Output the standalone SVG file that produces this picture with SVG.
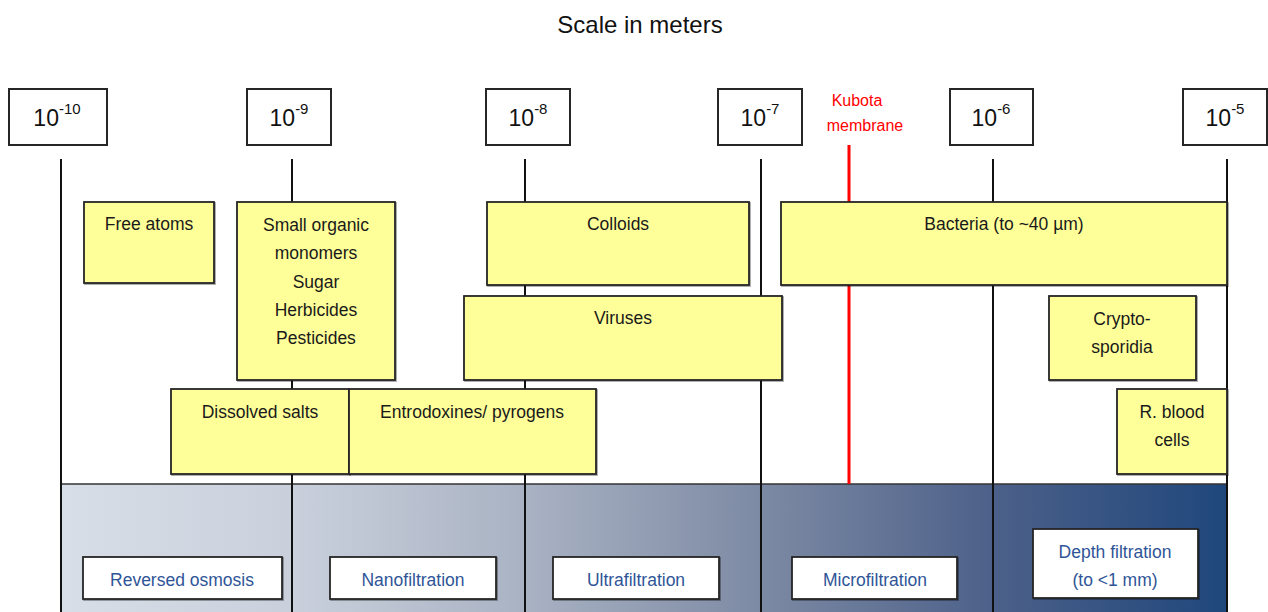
<svg xmlns="http://www.w3.org/2000/svg" width="1268" height="612" viewBox="0 0 1268 612">
<style>
text{font-family:"Liberation Sans",Arial,sans-serif;}
.title{font-size:24px;fill:#111;text-anchor:middle;}
.sbox{fill:#fff;stroke:#262626;stroke-width:2;}
.snum{font-size:23px;fill:#111;text-anchor:middle;}
.sup{font-size:15px;}
.ybox{fill:#ffff99;stroke:#262626;stroke-width:1.8;filter:url(#sh);}
.yt{font-size:17.5px;fill:#1a1a1a;text-anchor:middle;}
.wbox{fill:#fff;stroke:#262626;stroke-width:1.8;filter:url(#sh);}
.bt{font-size:17.5px;fill:#2f5597;text-anchor:middle;}
.vl{stroke:#111;stroke-width:2;}
.red{stroke:#ff0000;stroke-width:3;}
.kt{font-size:16px;fill:#ff0000;text-anchor:middle;}
</style>
<defs>
<linearGradient id="band" x1="61" y1="0" x2="1227" y2="0" gradientUnits="userSpaceOnUse">
<stop offset="0" stop-color="#d8dee7"/>
<stop offset="0.2" stop-color="#c9d0dc"/>
<stop offset="0.4" stop-color="#a9b2c3"/>
<stop offset="0.6" stop-color="#7d8aa4"/>
<stop offset="0.8" stop-color="#4c6089"/>
<stop offset="1" stop-color="#1f477c"/>
</linearGradient>
<filter id="sh" x="-5%" y="-5%" width="110%" height="115%">
<feDropShadow dx="1" dy="1" stdDeviation="0.6" flood-color="#000" flood-opacity="0.35"/>
</filter>
</defs>
<rect width="1268" height="612" fill="#fff"/>
<text class="title" x="640" y="33">Scale in meters</text>

<g id="band-bg">
<rect x="61" y="484" width="1166" height="130" fill="url(#band)"/>
<line x1="61" y1="484" x2="1227" y2="484" stroke="#333" stroke-width="1.5"/>
</g>

<g id="connectors">
<line class="vl" x1="61" y1="159" x2="61" y2="612"/>
<line class="vl" x1="292" y1="159" x2="292" y2="612"/>
<line class="vl" x1="525" y1="159" x2="525" y2="612"/>
<line class="vl" x1="761" y1="159" x2="761" y2="612"/>
<line class="vl" x1="993" y1="159" x2="993" y2="612"/>
<line class="vl" x1="1227" y1="159" x2="1227" y2="612"/>
<line class="red" x1="849" y1="145" x2="849" y2="484"/>
</g>

<g id="scale-1e-10"><rect class="sbox" x="9" y="89" width="98" height="56"/><text class="snum" x="57" y="126">10<tspan class="sup" dy="-12">-10</tspan></text></g>
<g id="scale-1e-9"><rect class="sbox" x="247" y="89" width="84" height="56"/><text class="snum" x="289" y="126">10<tspan class="sup" dy="-12">-9</tspan></text></g>
<g id="scale-1e-8"><rect class="sbox" x="486" y="89" width="84" height="56"/><text class="snum" x="528" y="126">10<tspan class="sup" dy="-12">-8</tspan></text></g>
<g id="scale-1e-7"><rect class="sbox" x="718" y="89" width="84" height="56"/><text class="snum" x="760" y="126">10<tspan class="sup" dy="-12">-7</tspan></text></g>
<g id="scale-1e-6"><rect class="sbox" x="950" y="89" width="83" height="56"/><text class="snum" x="991" y="126">10<tspan class="sup" dy="-12">-6</tspan></text></g>
<g id="scale-1e-5"><rect class="sbox" x="1183" y="89" width="84" height="56"/><text class="snum" x="1225" y="126">10<tspan class="sup" dy="-12">-5</tspan></text></g>

<g id="kubota"><text class="kt" x="857" y="106">Kubota</text><text class="kt" x="865" y="131">membrane</text></g>

<g id="free-atoms"><rect class="ybox" x="84" y="202" width="130" height="81"/><text class="yt" x="149" y="230">Free atoms</text></g>
<g id="small-organic"><rect class="ybox" x="237" y="202" width="158" height="178"/>
<text class="yt" x="316" y="231">Small organic</text>
<text class="yt" x="316" y="259">monomers</text>
<text class="yt" x="316" y="288">Sugar</text>
<text class="yt" x="316" y="316">Herbicides</text>
<text class="yt" x="316" y="344">Pesticides</text></g>
<g id="colloids"><rect class="ybox" x="487" y="202" width="262" height="83"/><text class="yt" x="618" y="230">Colloids</text></g>
<g id="bacteria"><rect class="ybox" x="781" y="202" width="446" height="83"/><text class="yt" x="1004" y="230">Bacteria (to ~40 µm)</text></g>
<g id="viruses"><rect class="ybox" x="464" y="296" width="318" height="84"/><text class="yt" x="623" y="324">Viruses</text></g>
<g id="cryptosporidia"><rect class="ybox" x="1049" y="296" width="147" height="84"/><text class="yt" x="1122" y="325">Crypto-</text><text class="yt" x="1122" y="353">sporidia</text></g>
<g id="dissolved-salts"><rect class="ybox" x="171" y="389" width="178" height="85"/><text class="yt" x="260" y="418">Dissolved salts</text></g>
<g id="entrodoxines"><rect class="ybox" x="349" y="389" width="247" height="85"/><text class="yt" x="472" y="418">Entrodoxines/ pyrogens</text></g>
<g id="red-blood-cells"><rect class="ybox" x="1117" y="389" width="110" height="85"/><text class="yt" x="1172" y="418">R. blood</text><text class="yt" x="1172" y="446">cells</text></g>

<g id="reversed-osmosis"><rect class="wbox" x="83" y="557" width="199" height="42"/><text class="bt" x="182" y="586">Reversed osmosis</text></g>
<g id="nanofiltration"><rect class="wbox" x="330" y="557" width="166" height="42"/><text class="bt" x="413" y="586">Nanofiltration</text></g>
<g id="ultrafiltration"><rect class="wbox" x="553" y="557" width="166" height="42"/><text class="bt" x="636" y="586">Ultrafiltration</text></g>
<g id="microfiltration"><rect class="wbox" x="792" y="557" width="165" height="42"/><text class="bt" x="875" y="586">Microfiltration</text></g>
<g id="depth-filtration"><rect class="wbox" x="1033" y="529" width="165" height="69"/><text class="bt" x="1115" y="558">Depth filtration</text><text class="bt" x="1115" y="586">(to &lt;1 mm)</text></g>
</svg>
